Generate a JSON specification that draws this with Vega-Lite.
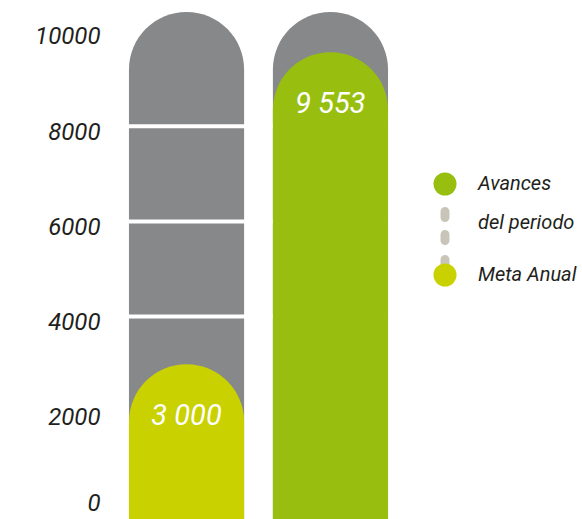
{
  "$schema": "https://vega.github.io/schema/vega-lite/v6.json",
  "width": 287,
  "height": 507,
  "autosize": {"type": "none"},
  "padding": {"left": 115, "top": 12, "right": 180, "bottom": 0},
  "background": "white",
  "config": {
    "view": {"stroke": null},
    "font": "Roboto",
    "axisY": {
      "grid": false, "domain": false, "ticks": false, "tickSize": 0,
      "labelPadding": 15, "labelFontSize": 24, "labelFontStyle": "italic",
      "labelColor": "#231f20", "labelFont": "Roboto"
    }
  },
  "data": {
    "values": [
      {"categoria": "Meta Anual", "valor": 3000, "etiqueta": "3 000"},
      {"categoria": "Avances del periodo", "valor": 9553, "etiqueta": "9 553"}
    ]
  },
  "layer": [
    {
      "mark": {"type": "bar", "color": "#87888a", "cornerRadiusTopLeft": 57.5, "cornerRadiusTopRight": 57.5},
      "encoding": {
        "x": {"field": "categoria", "type": "nominal", "sort": ["Meta Anual", "Avances del periodo"], "scale": {"paddingInner": 0.2, "paddingOuter": 0.097}, "axis": null},
        "y": {"datum": 10399, "type": "quantitative", "title": null, "scale": {"domain": [-252, 10399], "nice": false, "zero": false},
          "axis": {"values": [0, 2000, 4000, 6000, 8000, 10000], "format": "d", "title": null,
            "labelOffset": {"condition": {"test": "datum.value == 0", "value": -4}, "value": 6}}},
        "y2": {"datum": -252}
      }
    },
    {
      "data": {"values": [{"linea": 4000}, {"linea": 6000}, {"linea": 8000}]},
      "mark": {"type": "rule", "color": "white", "strokeWidth": 4},
      "encoding": {
        "y": {"field": "linea", "type": "quantitative", "title": null}
      }
    },
    {
      "mark": {"type": "point", "filled": true, "opacity": 0, "color": "#c8c5b8"},
      "encoding": {
        "x": {"field": "categoria", "type": "nominal", "sort": ["Meta Anual", "Avances del periodo"], "axis": null},
        "y": {"field": "valor", "type": "quantitative", "title": null},
        "shape": {
          "datum": "conector",
          "scale": {"range": ["M-0.39,2.22 A0.39,0.39 0 0 1 0.39,2.22 L0.39,2.74 A0.39,0.39 0 0 1 -0.39,2.74 Z M-0.39,4.22 A0.39,0.39 0 0 1 0.39,4.22 L0.39,4.74 A0.39,0.39 0 0 1 -0.39,4.74 Z M-0.39,6.39 A0.39,0.39 0 0 1 0.39,6.39 L0.39,6.8 L-0.39,6.8 Z"]},
          "legend": {
            "orient": "none", "legendX": 318, "legendY": 162, "title": null,
            "symbolSize": 530, "symbolFillColor": "#c8c5b8", "symbolStrokeColor": "#c8c5b8", "symbolStrokeWidth": 0, "symbolOpacity": 1,
            "labelExpr": "''", "labelFontSize": 1,
            "encode": {"symbols": {"update": {"fill": {"value": "#c8c5b8"}, "opacity": {"value": 1}}}}
          }
        }
      }
    },
    {
      "mark": {"type": "bar", "cornerRadiusTopLeft": 57.5, "cornerRadiusTopRight": 57.5},
      "encoding": {
        "x": {"field": "categoria", "type": "nominal", "sort": ["Meta Anual", "Avances del periodo"], "axis": null},
        "y": {"field": "valor", "type": "quantitative", "title": null},
        "y2": {"datum": -252},
        "color": {
          "field": "categoria", "type": "nominal",
          "scale": {"domain": ["Avances del periodo", "Meta Anual"], "range": ["#98bf0f", "#cad100"]},
          "legend": {
            "orient": "none", "legendX": 318, "legendY": 160, "title": null,
            "symbolType": "circle", "symbolSize": 530, "symbolStrokeWidth": 0, "symbolOpacity": 1,
            "labelFontSize": 20, "labelFontStyle": "italic", "labelColor": "#231f20",
            "labelFont": "Roboto",
            "labelOffset": 21, "rowPadding": 30, "labelLimit": 0,
            "labelExpr": "datum.label == 'Avances del periodo' ? ['Avances', 'del periodo'] : datum.label",
            "encode": {"labels": {"update": {"lineHeight": {"value": 39}}}}
          }
        }
      }
    },
    {
      "mark": {"type": "text", "color": "white", "fontSize": 29, "fontStyle": "italic", "baseline": "middle", "dy": 52, "font": "Roboto"},
      "encoding": {
        "x": {"field": "categoria", "type": "nominal", "sort": ["Meta Anual", "Avances del periodo"], "axis": null},
        "y": {"field": "valor", "type": "quantitative", "title": null},
        "text": {"field": "etiqueta"}
      }
    }
  ]
}
